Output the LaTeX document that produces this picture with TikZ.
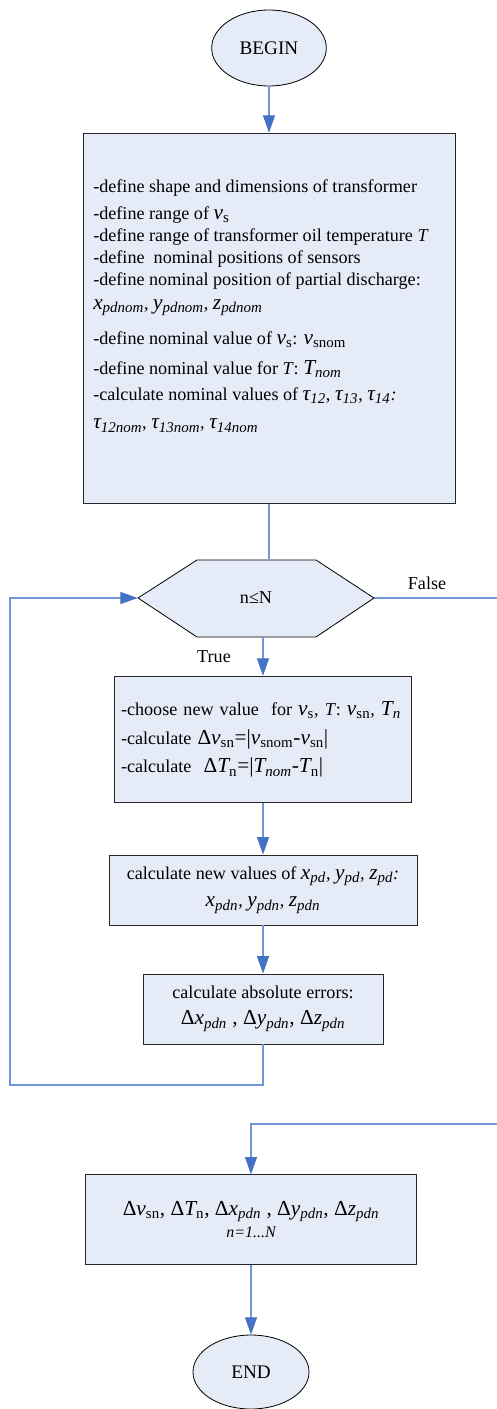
\documentclass[tikz,border=0pt]{standalone}
\usepackage{fontspec}
\setmainfont{Liberation Serif}
\usetikzlibrary{arrows.meta}
\usetikzlibrary{shapes.geometric}
\definecolor{boxfill}{HTML}{E6ECF7}
\definecolor{flowblue}{HTML}{4472C4}
\definecolor{lineblue}{HTML}{6F96D6}
\tikzset{>={Triangle[length=13pt,width=9pt,color=flowblue]}}
% larger italic symbols as in the equation editor
\newcommand{\bigsz}{\fontsize{16}{16}\selectfont}
\newcommand{\vup}[2]{{\bigsz\itshape #1\textsubscript{\upshape #2}}}
\newcommand{\vit}[2]{{\bigsz\itshape #1\textsubscript{#2}}}
\newcommand{\eqn}[1]{{\bigsz #1}}
\tikzset{
  procbox/.style={draw=black!85, line width=0.7pt, fill=boxfill, inner sep=0pt},
  termnode/.style={ellipse, draw=black, line width=0.6pt, fill=boxfill, inner sep=0pt},
  flow/.style={draw=lineblue, line width=0.8pt},
}

\begin{document}
\begin{tikzpicture}[x=0.75pt,y=-0.75pt, font=\fontsize{13.6}{16.5}\selectfont]
				\fill[white] (0,0) rectangle (496,1409);
				\useasboundingbox (0,0) rectangle (496,1409);
				% start and input data
				\node[termnode, minimum width=86pt, minimum height=57pt, font=\fontsize{14.4}{16}\selectfont] (startnode) at (269,48) {BEGIN};
				\node[procbox, minimum width=279pt, minimum height=278pt] (defbox) at (269,318.5) {};
				\node[anchor=north west, align=left, inner sep=0pt] (deftxt) at (93,179) {-define shape and dimensions of transformer\\[4pt]
					-define range of \vup{v}{s}\\[0pt]
					-define range of transformer oil temperature \textit{T}\\
					-define\ \ nominal positions of sensors\\
					-define nominal position of partial discharge:\\[1.5pt]
					\vit{x}{pdnom}, \vit{y}{pdnom}, \vit{z}{pdnom}\\[9.5pt]
					-define nominal value of \vup{v}{s}: \vup{v}{snom}\\[6pt]
					-define nominal value for \textit{T}: \vit{T}{nom}\\[3pt]
					-calculate nominal values of \vit{τ}{12}, \vit{τ}{13}, \vit{τ}{14}\textit{:}\\[5pt]
					\vit{τ}{12nom}, \vit{τ}{13nom}, \vit{τ}{14nom}};
				% loop condition
				\draw[draw=black, line width=0.6pt, fill=boxfill] (138,598) -- (197,560) -- (316,560) -- (374,598) -- (316,637) -- (197,637) -- cycle;
				\node[minimum width=177pt, minimum height=57.75pt, inner sep=0pt] (cond) at (256,598) {n≤N};
				\node (falselbl) at (427,583) {False};
				\node (truelbl) at (214,657) {True};
				% loop body
				\node[procbox, minimum height=95pt, text width=213pt, inner xsep=5pt, align=left] (choose) at (263,739.5) {-choose new value\ \ for \vup{v}{s}, \textit{T}: \vup{v}{sn}, \vit{T}{n}\\[5pt]
					-calculate \eqn{Δ\vup{v}{sn}=|\vup{v}{snom}-\vup{v}{sn}|}\\[5pt]
					-calculate\ \ \eqn{Δ\vup{T}{n}=|\vit{T}{nom}-\vup{T}{n}|}};
				\node[procbox, minimum width=231pt, minimum height=52.5pt, align=center] (calcnew) at (263,890) {calculate new values of \vit{x}{pd}, \vit{y}{pd}, \vit{z}{pd}\textit{:}\\[4pt]
					\vit{x}{pdn}, \vit{y}{pdn}, \vit{z}{pdn}};
				\node[procbox, minimum width=180pt, minimum height=52.5pt, align=center] (abserr) at (263,1009) {calculate absolute errors:\\[3pt]
					\eqn{Δ\vit{x}{pdn} , Δ\vit{y}{pdn}, Δ\vit{z}{pdn}}};
				% results and end
				\node[procbox, minimum width=248pt, minimum height=67pt, align=center] (result) at (251,1219.5) {\eqn{Δ\vup{v}{sn}, Δ\vup{T}{n}, Δ\vit{x}{pdn} , Δ\vit{y}{pdn}, Δ\vit{z}{pdn}}\\
					{\fontsize{12}{13}\selectfont\itshape n=1...N}};
				\node[termnode, minimum width=87pt, minimum height=55.5pt, font=\fontsize{14.4}{16}\selectfont] (stopnode) at (251,1372) {END};
				\coordinate (loopc) at (10,1085);
				\coordinate (falsec) at (498,1124);
				% connectors
				\draw[flow, ->] (startnode.south) -- (defbox.north);
				\draw[flow] (defbox.south) -- (defbox.south |- cond.north);
				\draw[flow, ->] (choose.north |- cond.south) -- (choose.north);
				\draw[flow, ->] (choose.south) -- (calcnew.north);
				\draw[flow, ->] (calcnew.south) -- (abserr.north);
				\draw[flow, ->] (abserr.south) |- (loopc) |- (cond.west);
				\draw[flow, ->] (cond.east) -| (falsec) -| (result.north);
				\draw[flow, ->] (result.south) -- (stopnode.north);
			\end{tikzpicture}
\end{document}
